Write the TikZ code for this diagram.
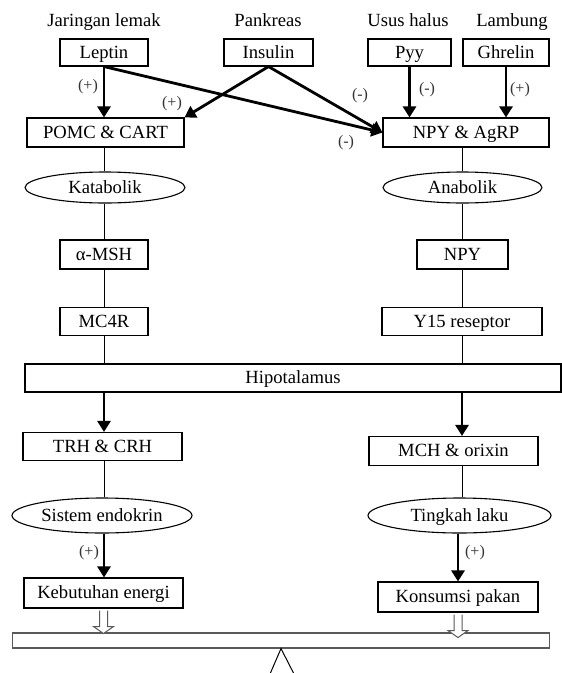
\documentclass[tikz,border=0pt]{standalone}
\usepackage{fontspec}
\setmainfont{Liberation Serif}
\usetikzlibrary{arrows.meta,shapes.geometric,calc}
\begin{document}
\begin{tikzpicture}[x=1pt,y=-1pt,
  every node/.style={inner sep=0pt},
  txt/.style={font=\fontsize{18.6}{22}\selectfont, text height=12pt, text depth=0.4pt},
  box/.style={txt, draw, line width=1.1pt, rectangle},
  oval/.style={txt, draw, line width=1.1pt, ellipse},
  lbl/.style={font=\fontsize{16}{19}\selectfont, text=black!80},
  conn/.style={line width=1pt},
  arr/.style={line width=2.8pt, -{Triangle[length=11pt,width=13pt]}},
  hollow/.style={draw=black!65, line width=1pt, fill=white},
  beamst/.style={draw=black!65, line width=1.1pt, rectangle}]
\useasboundingbox (0,0) rectangle (562,673);

% top titles
\node[txt] (tJ) at (104,21) {Jaringan lemak};
\node[txt] (tP) at (268,21) {Pankreas};
\node[txt] (tU) at (408,21) {Usus halus};
\node[txt] (tL) at (512,21) {Lambung};

% hormone boxes
\node[box, minimum width=88pt, minimum height=27pt] (leptin) at (104,52.5) {Leptin};
\node[box, minimum width=89pt, minimum height=27pt] (insulin) at (268.5,52.5) {Insulin};
\node[box, minimum width=83pt, minimum height=27pt] (pyy) at (409.5,52.5) {Pyy};
\node[box, minimum width=86pt, minimum height=27pt] (ghrelin) at (506,52.5) {Ghrelin};

% second row
\node[box, minimum width=157pt, minimum height=29pt] (pomc) at (105.5,132.5) {POMC \& CART};
\node[box, minimum width=166pt, minimum height=29pt] (npyagrp) at (466,132.5) {NPY \& AgRP};

% left column
\node[oval, minimum width=160pt, minimum height=31pt] (katabolik) at (105,187.5) {Katabolik};
\node[box, minimum width=88pt, minimum height=29pt] (amsh) at (104,254.5) {α-MSH};
\node[box, minimum width=88pt, minimum height=28pt] (mc4r) at (104,321.5) {MC4R};

% right column
\node[oval, minimum width=159pt, minimum height=31pt] (anabolik) at (462.5,187.5) {Anabolik};
\node[box, minimum width=91pt, minimum height=29pt] (npy) at (462.5,254.5) {NPY};
\node[box, minimum width=160pt, minimum height=28pt] (y15) at (462,321.5) {Y15 reseptor};

% hypothalamus
\node[box, minimum width=536pt, minimum height=28pt] (hipo) at (293,378) {Hipotalamus};

% lower part
\node[box, minimum width=159pt, minimum height=28pt] (trh) at (102.5,446.5) {TRH \& CRH};
\node[box, minimum width=169pt, minimum height=29pt] (mch) at (453.5,451) {MCH \& orixin};
\node[oval, minimum width=180pt, minimum height=35pt] (sistem) at (102,515.5) {Sistem endokrin};
\node[oval, minimum width=183pt, minimum height=35pt] (tingkah) at (459.5,515.5) {Tingkah laku};
\node[box, minimum width=159pt, minimum height=30pt] (keb) at (103.5,593) {Kebutuhan energi};
\node[box, minimum width=160pt, minimum height=30pt] (kons) at (458,597) {Konsumsi pakan};

% balance beam
\node[beamst, minimum width=537pt, minimum height=15pt] (beam) at (281,640.5) {};

% top arrows
\draw[arr] (leptin.south) -- (pomc.north -| leptin.south);
\draw[arr] (insulin.south) -- (pomc.north east);
\draw[arr] (leptin.south) -- (npyagrp.west);
\draw[arr] (insulin.south) -- (npyagrp.west);
\draw[arr] (pyy.south) -- (npyagrp.north -| pyy.south);
\draw[arr] (ghrelin.south) -- (npyagrp.north -| ghrelin.south);

% left chain
\draw[conn] (pomc.south -| mc4r.south) -- (katabolik.north -| mc4r.south);
\draw[conn] (katabolik.south -| mc4r.south) -- (amsh.north -| mc4r.south);
\draw[conn] (amsh.south) -- (mc4r.north);
\draw[conn] (mc4r.south) -- (hipo.north -| mc4r.south);

% right chain
\draw[conn] (npyagrp.south -| y15.south) -- (anabolik.north -| y15.south);
\draw[conn] (anabolik.south -| y15.south) -- (npy.north -| y15.south);
\draw[conn] (npy.south -| y15.south) -- (y15.north);
\draw[conn] (y15.south) -- (hipo.north -| y15.south);

% lower arrows
\draw[arr] (hipo.south -| mc4r.south) -- (trh.north -| mc4r.south);
\draw[arr] (hipo.south -| y15.south) -- (mch.north -| y15.south);
\draw[conn] (trh.south -| mc4r.south) -- (sistem.north -| mc4r.south);
\draw[conn] (mch.south -| y15.south) -- (tingkah.north -| y15.south);
\draw[arr] (sistem.south -| mc4r.south) -- (keb.north -| mc4r.south);
\draw[arr] (tingkah.south -| kons.north) -- (kons.north);

% labels
\node[lbl] (l1) at (88,87) {(+)};
\node[lbl] (l2) at (172,104) {(+)};
\node[lbl] (l3) at (360,96) {(-)};
\node[lbl] (l4) at (346,143) {(-)};
\node[lbl] (l5) at (427,90) {(-)};
\node[lbl] (l6) at (520,90) {(+)};
\node[lbl] (l7) at (89,553) {(+)};
\node[lbl] (l8) at (475,553) {(+)};

% hollow arrows
\draw[hollow] ($(keb.south)+(-4,2)$) -- ($(keb.south)+(-4,18)$) -- ($(keb.south)+(-10,18)$) -- ($(keb.south)+(0,25)$) -- ($(keb.south)+(10,18)$) -- ($(keb.south)+(4,18)$) -- ($(keb.south)+(4,2)$);
\draw[hollow] ($(kons.south)+(-4,2)$) -- ($(kons.south)+(-4,18)$) -- ($(kons.south)+(-10,18)$) -- ($(kons.south)+(0,25)$) -- ($(kons.south)+(10,18)$) -- ($(kons.south)+(4,18)$) -- ($(kons.south)+(4,2)$);

% fulcrum
\coordinate (fl) at (270,674);
\coordinate (fr) at (294,674);
\draw[conn] (fl) -- (beam.south) -- (fr);
\end{tikzpicture}
\end{document}
